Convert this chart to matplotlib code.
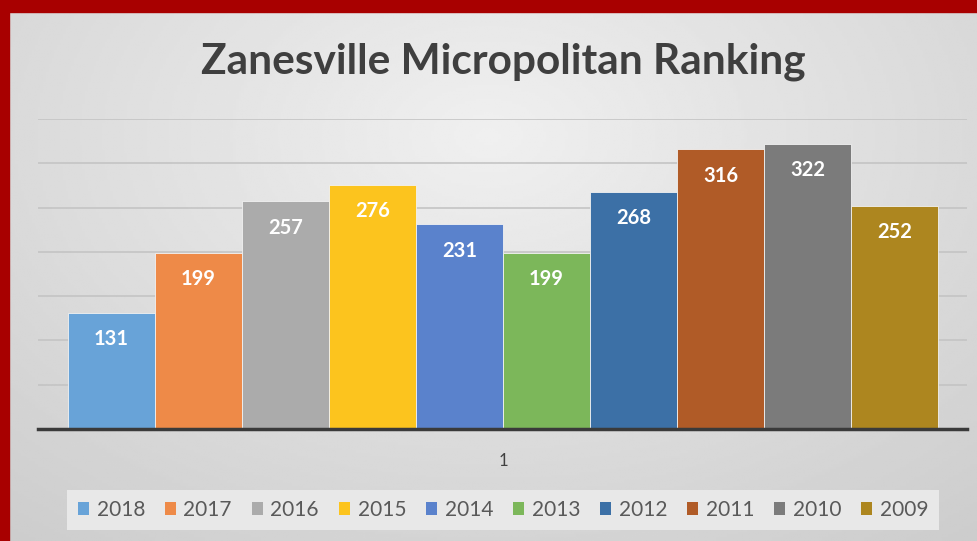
import numpy as np
import matplotlib.pyplot as plt
from matplotlib.patches import Patch, Rectangle

# ---------------- data ----------------
years = ['2018', '2017', '2016', '2015', '2014', '2013', '2012', '2011', '2010', '2009']
ranks = [131, 199, 257, 276, 231, 199, 268, 316, 322, 252]
colors = ['#68a3d8', '#ee8a48', '#ababab', '#fcc41e', '#5a82cc',
          '#7cb75a', '#3c70a6', '#b05b27', '#7b7b7b', '#ad861f']
category = '1'
title = 'Zanesville Micropolitan Ranking'
# --------------------------------------

plt.rcParams['font.family'] = ['Lato', 'DejaVu Sans']

W, H = 977, 541
fig = plt.figure(figsize=(W / 100, H / 100), dpi=100)

# background gradient (light in the upper middle, darker to the edges)
bg = fig.add_axes([0, 0, 1, 1])
yy, xx = np.mgrid[0:1:200j, 0:1:350j]
r = np.sqrt(((xx - 0.5) / 0.75) ** 2 + ((yy - 0.25) / 0.9) ** 2)
shade = 0.94 - 0.13 * np.clip(r, 0, 1.2)
bg.imshow(shade, cmap='gray', vmin=0, vmax=1, aspect='auto', extent=[0, 1, 0, 1], origin='upper')
bg.set_xlim(0, 1)
bg.set_ylim(0, 1)
bg.axis('off')

# red frame (top and left)
fig.patches.append(Rectangle((0, 1 - 12 / H), 1, 12 / H, transform=fig.transFigure,
                             color='#a80000', zorder=5))
fig.patches.append(Rectangle((0, 0), 9 / W, 1, transform=fig.transFigure,
                             color='#a80000', zorder=5))

# main axes
ax = fig.add_axes([38 / W, 1 - 429 / H, 929 / W, 310 / H])
ax.patch.set_alpha(0)
x = np.arange(len(years))
bars = ax.bar(x, ranks, width=1.0, color=colors, edgecolor='#f2f2f2', linewidth=0.6, zorder=3)
ax.set_xlim(-0.5 - 0.345, len(years) - 0.5 + 0.333)
ax.set_ylim(0, 350)
ax.set_yticks(np.arange(0, 351, 50))
ax.yaxis.grid(True, color='#c4c4c4', linewidth=1.2, zorder=0)
ax.tick_params(axis='y', left=False, labelleft=False)
for s in ['top', 'right', 'left']:
    ax.spines[s].set_visible(False)
ax.spines['bottom'].set_color('#3a3a3a')
ax.spines['bottom'].set_linewidth(2.5)
ax.spines['bottom'].set_zorder(4)

ax.set_xticks([x.mean()])
ax.set_xticklabels([category], fontsize=12, color='#404040')
ax.tick_params(axis='x', length=0, pad=17)

for b, v in zip(bars, ranks):
    ax.annotate(str(v), (b.get_x() + b.get_width() / 2, v), xytext=(0, -19),
                textcoords='offset points', ha='center', va='center',
                color='white', fontsize=14.5, fontweight='bold', zorder=5)

fig.text(503 / W, 1 - 62 / H, title, ha='center', va='center',
         fontsize=30.5, fontweight='bold', color='#3f3f3f')

handles = [Patch(facecolor=c, edgecolor='none') for c in colors]
leg = fig.legend(handles, years, loc='center', bbox_to_anchor=(503 / W, 1 - 510 / H),
                 ncol=len(years), fontsize=15, frameon=True, handlelength=0.55,
                 handleheight=0.55, handletextpad=0.35, columnspacing=0.95,
                 borderpad=0.5)
leg.get_frame().set_facecolor('#e8e8e8')
leg.get_frame().set_edgecolor('none')
leg.get_frame().set_alpha(1)
leg.get_frame().set_boxstyle('square', pad=0)
for t in leg.get_texts():
    t.set_color('#595959')

fig.savefig('out.png', dpi=100)
